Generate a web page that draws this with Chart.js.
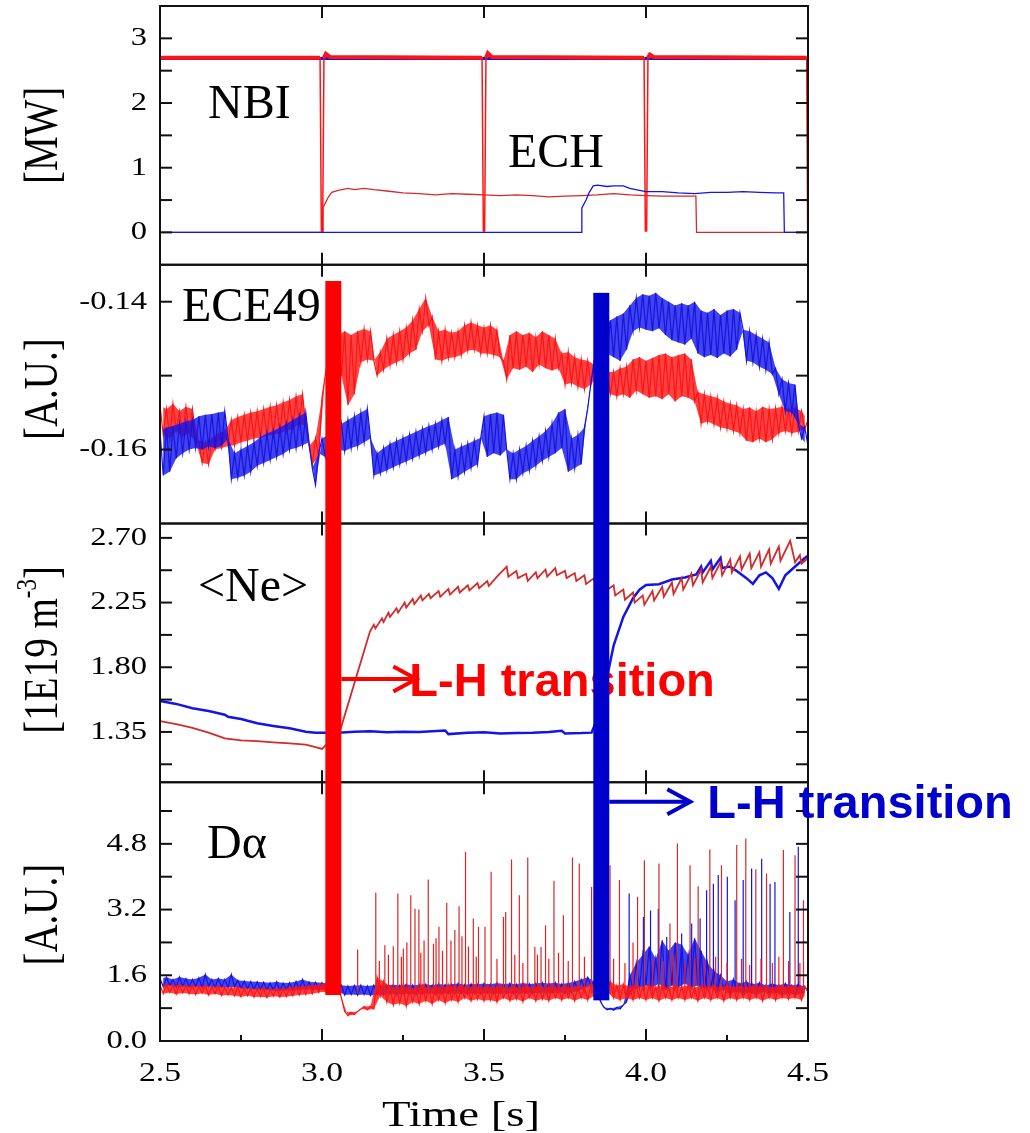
<!DOCTYPE html>
<html>
<head>
<meta charset="utf-8">
<title>L-H transition: NBI / ECH / ECE49 / Ne / D-alpha</title>
<script src="https://cdn.jsdelivr.net/npm/chart.js@4.4.1/dist/chart.umd.min.js"></script>
<style>
  html, body { margin: 0; padding: 0; background: #fff; }
  #wrap { width: 1030px; height: 1133px; }
</style>
</head>
<body>
<div id="wrap"><canvas id="lh" width="1030" height="1133"></canvas></div>
<script>
// ── TICKS ──
const TIME_TICKS = [2.5, 3.0, 3.5, 4.0, 4.5];
const TIME_MINOR = [2.75, 3.25, 3.75, 4.25];
const MW_TICKS = [0, 1, 2, 3];
const MW_MINOR = [0.5, 1.5, 2.5];
const ECE_TICKS = [-0.16, -0.14];
const ECE_MINOR = [-0.15];
const NE_TICKS = [1.35, 1.80, 2.25, 2.70];
const NE_MINOR = [1.125, 1.575, 2.025, 2.475];
const DA_TICKS = [0.0, 1.6, 3.2, 4.8];
const DA_MINOR = [0.8, 2.4, 4.0, 5.6];

const PANEL_LABELS = ['NBI', 'ECH', 'ECE49', '<Ne>', 'D\u03b1'];
const Y_TITLES = ['[MW]', '[A.U.]', '[1E19 m', '[A.U.]'];
const X_TITLE = 'Time [s]';
const LH_TEXT = 'L-H transition';

// ── PANEL 1: heating power [MW] ──
const NBI_RED_T = [2.500, 2.994, 2.998, 3.002, 3.006, 3.012, 3.025, 3.494, 3.498, 3.502, 3.506, 3.512, 3.525,
  3.994, 3.998, 4.002, 4.006, 4.012, 4.025, 4.496, 4.499, 4.500];
const NBI_RED_V = [2.70, 2.70, 0.02, 0.02, 2.70, 2.76, 2.71, 2.70, 0.02, 0.02, 2.70, 2.77, 2.71,
  2.70, 0.02, 0.02, 2.70, 2.75, 2.71, 2.70, 0.02, 0.02];
const NBI_BLUE_T = [2.50, 4.50];
const NBI_BLUE_V = [2.69, 2.69];
const ECH_RED_T = [2.500, 3.000, 3.003, 3.010, 3.020, 3.030, 3.050, 3.080, 3.100, 3.130, 3.160, 3.200, 3.250,
  3.300, 3.350, 3.400, 3.450, 3.500, 3.550, 3.600, 3.650, 3.700, 3.750, 3.800, 3.850, 3.900, 3.950,
  4.000, 4.050, 4.100, 4.154, 4.156, 4.500];
const ECH_RED_V = [0, 0, 0.38, 0.45, 0.55, 0.62, 0.65, 0.68, 0.66, 0.68, 0.66, 0.64, 0.61,
  0.60, 0.58, 0.60, 0.59, 0.58, 0.57, 0.58, 0.57, 0.55, 0.56, 0.57, 0.58, 0.60, 0.58,
  0.57, 0.56, 0.56, 0.56, 0, 0];
const ECH_BLUE_T = [2.500, 3.800, 3.802, 3.815, 3.825, 3.837, 3.850, 3.880, 3.900, 3.930, 3.950, 3.980,
  4.000, 4.050, 4.100, 4.150, 4.200, 4.250, 4.300, 4.350, 4.400, 4.425, 4.427, 4.500];
const ECH_BLUE_V = [0, 0, 0.38, 0.50, 0.62, 0.72, 0.73, 0.71, 0.72, 0.72, 0.68, 0.65,
  0.63, 0.63, 0.61, 0.60, 0.62, 0.62, 0.63, 0.62, 0.61, 0.61, 0, 0];

// ── sample times of the digitised ECE / D-alpha records (10 ms) ──
const GRID_T = Array.from({ length: 201 }, (_, i) => Math.round(250 + i) / 100);

// ── PANEL 2: ECE49 [A.U.] (samples alternate between the top and bottom of the noise) ──
const ECE_RED = [
  -.1540, -.1580, -.1545, -.1585, -.1538, -.1575, -.1548, -.1582, -.1542, -.1578,
  -.1545, -.1590, -.1588, -.1618, -.1590, -.1620, -.1585, -.1600, -.1578, -.1598,
  -.1575, -.1595, -.1560, -.1594, -.1556, -.1590, -.1553, -.1588, -.1550, -.1585,
  -.1548, -.1584, -.1545, -.1582, -.1542, -.1580, -.1540, -.1578, -.1536, -.1575,
  -.1533, -.1572, -.1528, -.1565, -.1525, -.1568, -.1595, -.1620, -.1585, -.1610,
  -.1530, -.1500, -.1470, -.1455, -.1480, -.1445, -.1500, -.1440, -.1540, -.1445,
  -.1525, -.1440, -.1482, -.1437, -.1478, -.1440, -.1480, -.1500, -.1468, -.1492,
  -.1450, -.1486, -.1445, -.1482, -.1440, -.1478, -.1435, -.1470, -.1425, -.1465,
  -.1410, -.1440, -.1395, -.1432, -.1420, -.1478, -.1440, -.1480, -.1438, -.1476,
  -.1442, -.1475, -.1440, -.1472, -.1432, -.1466, -.1428, -.1465, -.1432, -.1470,
  -.1435, -.1470, -.1432, -.1472, -.1438, -.1475, -.1480, -.1505, -.1445, -.1490,
  -.1440, -.1492, -.1445, -.1488, -.1442, -.1495, -.1448, -.1485, -.1440, -.1490,
  -.1445, -.1493, -.1450, -.1490, -.1470, -.1512, -.1468, -.1510, -.1475, -.1515,
  -.1478, -.1518, -.1480, -.1512, -.1485, -.1500, -.1492, -.1510, -.1495, -.1525,
  -.1495, -.1528, -.1490, -.1525, -.1488, -.1530, -.1478, -.1520, -.1475, -.1525,
  -.1480, -.1530, -.1476, -.1528, -.1472, -.1532, -.1470, -.1525, -.1475, -.1535,
  -.1472, -.1528, -.1470, -.1530, -.1478, -.1535, -.1522, -.1565, -.1525, -.1562,
  -.1528, -.1566, -.1530, -.1570, -.1535, -.1572, -.1538, -.1575, -.1540, -.1578,
  -.1545, -.1588, -.1543, -.1590, -.1548, -.1585, -.1542, -.1590, -.1545, -.1586,
  -.1544, -.1578, -.1542, -.1575, -.1545, -.1578, -.1543, -.1576, -.1548, -.1572, -.1560
];
const ECE_BLUE = [
  -.1575, -.1635, -.1570, -.1630, -.1568, -.1612, -.1565, -.1605, -.1562, -.1600,
  -.1560, -.1598, -.1555, -.1600, -.1553, -.1596, -.1552, -.1598, -.1550, -.1595,
  -.1548, -.1585, -.1640, -.1605, -.1638, -.1600, -.1635, -.1595, -.1630, -.1590,
  -.1622, -.1583, -.1618, -.1578, -.1614, -.1575, -.1610, -.1570, -.1606, -.1565,
  -.1600, -.1560, -.1598, -.1555, -.1594, -.1550, -.1590, -.1625, -.1648, -.1605,
  -.1585, -.1610, -.1580, -.1605, -.1578, -.1600, -.1565, -.1602, -.1560, -.1598,
  -.1555, -.1595, -.1550, -.1590, -.1545, -.1585, -.1635, -.1605, -.1632, -.1598,
  -.1628, -.1592, -.1624, -.1588, -.1620, -.1584, -.1616, -.1580, -.1612, -.1576,
  -.1608, -.1572, -.1604, -.1568, -.1600, -.1565, -.1596, -.1560, -.1592, -.1556,
  -.1640, -.1600, -.1636, -.1596, -.1630, -.1592, -.1625, -.1588, -.1620, -.1584,
  -.1555, -.1610, -.1552, -.1605, -.1550, -.1608, -.1553, -.1600, -.1640, -.1605,
  -.1640, -.1600, -.1632, -.1595, -.1628, -.1588, -.1622, -.1582, -.1615, -.1575,
  -.1610, -.1565, -.1605, -.1550, -.1598, -.1545, -.1630, -.1585, -.1625, -.1580,
  -.1620, -.1570, -.1545, -.1510, -.1480, -.1460, -.1450, -.1440, -.1470, -.1425,
  -.1475, -.1420, -.1480, -.1416, -.1465, -.1405, -.1440, -.1395, -.1435, -.1390,
  -.1438, -.1392, -.1440, -.1388, -.1436, -.1395, -.1445, -.1400, -.1452, -.1405,
  -.1455, -.1402, -.1458, -.1405, -.1450, -.1400, -.1470, -.1412, -.1475, -.1415,
  -.1472, -.1410, -.1476, -.1418, -.1470, -.1412, -.1474, -.1410, -.1465, -.1415,
  -.1438, -.1480, -.1440, -.1482, -.1445, -.1488, -.1450, -.1492, -.1455, -.1498,
  -.1490, -.1525, -.1505, -.1548, -.1510, -.1550, -.1512, -.1565, -.1585, -.1570, -.1595
];

// ── PANEL 3: line-averaged density [1E19 m^-3] ──
const NE_RED_T = [2.50, 2.55, 2.60, 2.65, 2.70, 2.75, 2.80, 2.85, 2.90, 2.95, 2.98, 3.00, 3.03, 3.052, 3.148,
  3.160, 3.165, 3.185, 3.190, 3.205, 3.210, 3.230, 3.235, 3.255, 3.260, 3.280, 3.285, 3.305, 3.310,
  3.330, 3.335, 3.360, 3.365, 3.390, 3.395, 3.420, 3.425, 3.450, 3.455, 3.480, 3.485, 3.510, 3.515,
  3.540, 3.570, 3.575, 3.600, 3.605, 3.630, 3.635, 3.660, 3.665, 3.690, 3.695, 3.720, 3.725, 3.750,
  3.755, 3.780, 3.785, 3.810, 3.815, 3.840, 3.845, 3.870, 3.875, 3.900, 3.905, 3.930, 3.935, 3.960,
  3.965, 3.990, 3.995, 4.020, 4.025, 4.050, 4.055, 4.080, 4.085, 4.110, 4.115, 4.140, 4.145, 4.170,
  4.175, 4.200, 4.205, 4.230, 4.235, 4.260, 4.265, 4.290, 4.295, 4.320, 4.325, 4.350, 4.355, 4.380,
  4.385, 4.410, 4.415, 4.445, 4.460, 4.475, 4.480, 4.500];
const NE_RED_V = [1.425, 1.405, 1.378, 1.345, 1.305, 1.292, 1.286, 1.278, 1.270, 1.262, 1.245, 1.232, 1.300, 1.330, 2.048,
  2.095, 2.070, 2.140, 2.115, 2.180, 2.150, 2.210, 2.180, 2.250, 2.215, 2.275, 2.240, 2.300, 2.265,
  2.310, 2.280, 2.330, 2.290, 2.345, 2.305, 2.360, 2.320, 2.370, 2.335, 2.385, 2.350, 2.400, 2.365,
  2.430, 2.500, 2.430, 2.470, 2.420, 2.450, 2.400, 2.460, 2.420, 2.480, 2.430, 2.490, 2.440, 2.470,
  2.420, 2.455, 2.400, 2.440, 2.380, 2.420, 2.350, 2.390, 2.330, 2.370, 2.300, 2.340, 2.270, 2.320,
  2.250, 2.300, 2.235, 2.330, 2.265, 2.360, 2.290, 2.390, 2.310, 2.420, 2.340, 2.450, 2.370, 2.480,
  2.390, 2.500, 2.420, 2.530, 2.440, 2.550, 2.460, 2.570, 2.480, 2.590, 2.490, 2.600, 2.500, 2.620,
  2.520, 2.640, 2.540, 2.680, 2.530, 2.580, 2.520, 2.560];
const NE_BLUE_T = [2.50, 2.55, 2.60, 2.65, 2.70, 2.71, 2.75, 2.80, 2.85, 2.90, 2.95, 2.98, 3.00, 3.05, 3.10,
  3.15, 3.20, 3.25, 3.30, 3.38, 3.39, 3.45, 3.50, 3.55, 3.60, 3.65, 3.70, 3.74, 3.75, 3.80,
  3.832, 3.860, 3.877, 3.900, 3.930, 3.960, 3.980, 4.000, 4.040, 4.080, 4.120, 4.155, 4.170, 4.175,
  4.200, 4.205, 4.230, 4.235, 4.260, 4.280, 4.310, 4.330, 4.350, 4.370, 4.390, 4.410, 4.430, 4.450,
  4.470, 4.490, 4.500];
const NE_BLUE_V = [1.565, 1.545, 1.515, 1.495, 1.470, 1.455, 1.440, 1.410, 1.392, 1.375, 1.352, 1.345, 1.345, 1.345, 1.352,
  1.355, 1.348, 1.352, 1.350, 1.360, 1.335, 1.345, 1.348, 1.340, 1.343, 1.345, 1.350, 1.358, 1.340, 1.342,
  1.345, 1.500, 1.700, 1.950, 2.150, 2.280, 2.340, 2.372, 2.378, 2.410, 2.425, 2.445, 2.500, 2.460,
  2.540, 2.480, 2.560, 2.490, 2.500, 2.470, 2.420, 2.380, 2.440, 2.460, 2.420, 2.345, 2.440, 2.480,
  2.520, 2.560, 2.575];

// ── PANEL 4: D-alpha [A.U.] (baseline noise, samples alternate top / bottom) ──
const DA_RED = [
  1.36, 1.15, 1.38, 1.18, 1.35, 1.14, 1.37, 1.17, 1.34, 1.15,
  1.36, 1.13, 1.33, 1.16, 1.35, 1.12, 1.32, 1.15, 1.34, 1.11,
  1.31, 1.12, 1.30, 1.10, 1.32, 1.08, 1.29, 1.10, 1.28, 1.07,
  1.27, 1.08, 1.29, 1.06, 1.26, 1.09, 1.28, 1.07, 1.27, 1.08,
  1.30, 1.10, 1.32, 1.12, 1.33, 1.13, 1.35, 1.15, 1.36, 1.18,
  1.38, 1.20, 1.40, 1.25, 1.42, 1.30, 1.05, 0.72, 0.62, 0.70,
  0.64, 0.72, 0.78, 0.84, 0.76, 0.85, 0.78, 1.55, 1.10, 1.45,
  0.95, 1.32, 0.88, 1.30, 0.92, 1.35, 0.85, 1.28, 0.95, 1.30,
  0.90, 1.35, 0.98, 1.30, 0.90, 1.34, 1.00, 1.30, 0.92, 1.36,
  1.00, 1.32, 0.95, 1.35, 1.05, 1.30, 0.98, 1.34, 1.02, 1.30,
  0.98, 1.34, 1.00, 1.30, 0.95, 1.35, 1.05, 1.30, 0.98, 1.33,
  1.02, 1.30, 0.96, 1.35, 1.05, 1.30, 0.98, 1.34, 1.02, 1.30,
  0.98, 1.35, 1.05, 1.30, 1.00, 1.34, 1.05, 1.30, 0.98, 1.35,
  1.05, 1.32, 1.00, 1.38, 1.10, 1.40, 1.15, 1.42, 1.20, 1.45,
  1.05, 1.35, 1.00, 1.38, 1.05, 1.32, 1.00, 1.36, 1.05, 1.32,
  1.00, 1.36, 1.05, 1.32, 0.98, 1.35, 1.05, 1.30, 1.00, 1.34,
  1.05, 1.32, 1.00, 1.36, 1.05, 1.30, 0.98, 1.34, 1.05, 1.32,
  1.00, 1.35, 1.05, 1.30, 0.98, 1.36, 1.05, 1.32, 1.00, 1.34,
  1.05, 1.30, 1.00, 1.35, 1.05, 1.32, 0.98, 1.34, 1.05, 1.30,
  1.00, 1.35, 1.05, 1.32, 1.02, 1.34, 1.05, 1.30, 1.00, 1.33, 1.20
];
const DA_BLUE = [
  1.52, 1.32, 1.55, 1.35, 1.50, 1.30, 1.56, 1.33, 1.52, 1.31,
  1.50, 1.32, 1.54, 1.30, 1.62, 1.33, 1.50, 1.30, 1.52, 1.31,
  1.50, 1.30, 1.62, 1.32, 1.48, 1.28, 1.46, 1.27, 1.45, 1.26,
  1.44, 1.25, 1.43, 1.24, 1.42, 1.23, 1.44, 1.22, 1.41, 1.24,
  1.42, 1.23, 1.45, 1.25, 1.50, 1.26, 1.44, 1.25, 1.43, 1.24,
  1.42, 1.25, 1.40, 1.24, 1.38, 1.22, 1.36, 1.12, 1.34, 1.13,
  1.35, 1.12, 1.36, 1.13, 1.34, 1.11, 1.36, 1.14, 1.35, 1.12,
  1.36, 1.15, 1.37, 1.13, 1.35, 1.14, 1.38, 1.15, 1.36, 1.13,
  1.37, 1.14, 1.38, 1.16, 1.36, 1.13, 1.39, 1.15, 1.37, 1.16,
  1.38, 1.15, 1.40, 1.16, 1.37, 1.14, 1.39, 1.16, 1.38, 1.15,
  1.40, 1.17, 1.38, 1.15, 1.41, 1.16, 1.39, 1.17, 1.40, 1.15,
  1.38, 1.16, 1.41, 1.17, 1.39, 1.15, 1.40, 1.18, 1.42, 1.16,
  1.40, 1.17, 1.42, 1.18, 1.39, 1.16, 1.41, 1.19, 1.45, 1.22,
  1.50, 1.28, 1.55, 1.35, 1.45, 1.20, 0.95, 0.82, 0.76, 0.80,
  0.75, 0.82, 0.78, 0.88, 0.95, 1.60, 1.25, 1.90, 1.30, 2.10,
  1.35, 2.30, 1.30, 2.00, 1.40, 2.45, 1.25, 2.20, 1.35, 2.40,
  1.30, 2.35, 1.40, 2.10, 1.30, 2.50, 1.35, 2.20, 1.25, 1.90,
  1.30, 1.70, 1.20, 1.60, 1.25, 1.45, 1.15, 1.50, 1.20, 1.40,
  1.15, 1.45, 1.18, 1.38, 1.12, 1.42, 1.20, 1.35, 1.15, 1.40,
  1.18, 1.36, 1.12, 1.40, 1.16, 1.35, 1.12, 1.38, 1.15, 1.32, 1.20
];
// ELM spikes (time, peak) and the level they rise from
const DA_RED_SPIKE_T = [3.110, 3.166, 3.194, 3.220, 3.234, 3.251, 3.274, 3.287, 3.299, 3.328, 3.344, 3.361,
  3.385, 3.410, 3.423, 3.443, 3.467, 3.483, 3.503, 3.522, 3.560, 3.567, 3.585, 3.609, 3.635, 3.657,
  3.676, 3.690, 3.716, 3.745, 3.773, 3.794, 3.832, 3.889, 3.918, 3.974, 3.995, 4.040, 4.074, 4.097,
  4.136, 4.161, 4.197, 4.233, 4.280, 4.308, 4.339, 4.372, 4.424, 4.460, 4.486];
const DA_RED_SPIKE_V = [2.23, 3.61, 2.33, 2.31, 3.59, 2.25, 3.55, 3.22, 3.20, 3.93, 2.37, 2.78,
  3.36, 2.70, 3.28, 4.61, 2.98, 2.78, 2.78, 4.12, 3.02, 3.14, 4.42, 3.55, 4.47, 2.29,
  2.29, 2.82, 3.90, 3.06, 4.47, 4.32, 3.75, 4.28, 3.92, 3.51, 4.40, 4.32, 2.86, 4.81,
  4.28, 3.77, 4.66, 4.28, 4.77, 4.93, 4.18, 4.08, 4.65, 4.52, 3.43];
const DA_RED_SMALL_T = [3.177, 3.205, 3.245, 3.262, 3.305, 3.315, 3.352, 3.372, 3.398, 3.432, 3.452, 3.476,
  3.540, 3.595, 3.620, 3.665, 3.700, 3.730, 3.760, 3.810, 3.900, 3.935, 3.960, 4.020, 4.055, 4.085,
  4.120, 4.150, 4.180, 4.215, 4.250, 4.295, 4.320, 4.355, 4.390, 4.410, 4.440, 4.475];
const DA_RED_SMALL_V = [1.95, 2.10, 2.05, 2.40, 2.15, 2.45, 2.50, 2.20, 2.45, 2.55, 2.30, 2.05,
  2.00, 2.10, 1.90, 2.10, 2.00, 2.15, 1.95, 2.05, 2.00, 1.90, 2.40, 2.00, 1.95, 2.10,
  1.90, 2.00, 1.95, 2.05, 1.90, 2.00, 1.85, 2.00, 1.90, 2.05, 1.95, 1.90];
const DA_BLUE_SPIKE_T = [3.948, 3.992, 4.014, 4.038, 4.064, 4.110, 4.141, 4.167, 4.187, 4.208,
  4.223, 4.251, 4.275, 4.300, 4.326, 4.357, 4.383, 4.398, 4.444, 4.470];
const DA_BLUE_SPIKE_V = [3.59, 3.02, 3.18, 3.22, 2.53, 2.62, 2.86, 2.98, 3.67, 3.83,
  4.04, 4.00, 3.43, 3.92, 4.20, 4.44, 3.83, 3.87, 3.14, 4.73];
const DA_RED_SPIKE_BASE = 1.15;
const DA_BLUE_SPIKE_BASE = 1.25;

// ── L-H transition markers: time, top (ECE49 units), bottom (D-alpha units) ──
const LH_TIME = [3.035, 3.862];
const LH_BAR_TOP = [-0.1372, -0.1388];
const LH_BAR_BOTTOM = [1.12, 0.99];

// ── STYLE ──
const SERIF = "'Liberation Serif', 'Times New Roman', serif";
const SANS = "'Liberation Sans', Arial, sans-serif";
const RED = '#ff1414';
const RED_BAND = 'rgba(255, 20, 20, 0.8)';
const DARK_RED = '#d42a2a';
const BLUE = '#1414e6';
const BLUE_BAND = 'rgba(20, 20, 230, 0.8)';
const BAR_COLORS = ['#ff0000', '#0000cc'];

const pts = (t, v) => t.map((x, i) => ({ x, y: v[i] }));
const half = (t, v, p) => pts(t, v).filter((_, i) => i % 2 === p);
// the beam-on level only (notches left as gaps) for the thick NBI band
const beamOn = (t, v) => t.map((x, i) => ({ x, y: v[i] > 1 ? v[i] : null }));
const spikes = (t, v, base) => t.flatMap((x, i) => [{ x, y: base }, { x, y: v[i] }, { x, y: null }]);
const trace = (data, color, width, axis, order, extra) => Object.assign({
    data, borderColor: color, borderWidth: width, yAxisID: axis, xAxisID: 'x', order,
    pointRadius: 0, tension: 0, fill: false, spanGaps: false
}, extra || {});
// noise envelope: band between the upper and lower samples of a record
const band = (t, v, fillColor, axis, order) => [
    trace(half(t, v, 0), 'rgba(0,0,0,0)', 0, axis, order, { fill: '+1', backgroundColor: fillColor }),
    trace(half(t, v, 1), 'rgba(0,0,0,0)', 0, axis, order)
];

function panelScale(min, max, weight, major, minor) {
    return {
        type: 'linear', position: 'left', stack: 'panels', stackWeight: 1, weight,
        min, max,
        grid: { display: false }, border: { display: false }, ticks: { display: false },
        afterBuildTicks: s => { s.ticks = major.concat(minor).sort((a, b) => a - b).map(v => ({ value: v })); },
        afterFit: s => { s.width = 160; }
    };
}

const Y_MAJOR = [MW_TICKS, ECE_TICKS, NE_TICKS, DA_TICKS];
const Y_DEC = [0, 2, 2, 1];
const Y_TITLE_SHIFT = [0, -5, -3, 3];

function stretchText(ctx, text, x, y, sx) {
    ctx.save();
    ctx.translate(x, y);
    ctx.scale(sx, 1);
    ctx.fillText(text, 0, 0);
    ctx.restore();
}

const panelOverlay = {
    id: 'panelOverlay',
    afterDatasetsDraw(chart) {
        const { ctx, chartArea: a, scales } = chart;
        const xs = scales.x;
        const panels = ['y1', 'y2', 'y3', 'y4'].map(k => scales[k]);
        const seg = (x1, y1, x2, y2) => { ctx.beginPath(); ctx.moveTo(x1, y1); ctx.lineTo(x2, y2); ctx.stroke(); };
        ctx.save();

        // ── frames + inward ticks ──
        ctx.strokeStyle = '#111';
        ctx.lineWidth = 2;
        panels.forEach((s, k) => {
            ctx.strokeRect(a.left, s.top, a.right - a.left, s.bottom - s.top);
            s.ticks.forEach(t => {
                const y = s.getPixelForValue(t.value);
                if (y < s.top + 2 || y > s.bottom - 2) return;
                seg(a.left, y, a.left + 12, y);
                seg(a.right, y, a.right - 12, y);
            });
            xs.ticks.forEach(t => {
                const x = xs.getPixelForValue(t.value);
                if (x < a.left + 2 || x > a.right - 2) return;
                const major = TIME_TICKS.some(v => Math.abs(v - t.value) < 1e-6);
                if (major) {
                    seg(x, s.top, x, s.top + 12);
                    seg(x, s.bottom, x, s.bottom - 12);
                } else if (k === panels.length - 1) {
                    seg(x, s.bottom, x, s.bottom - 6);
                }
            });
        });

        // ── tick labels ──
        ctx.fillStyle = '#000';
        ctx.font = `26px ${SERIF}`;
        ctx.textAlign = 'right';
        ctx.textBaseline = 'middle';
        panels.forEach((s, k) => {
            Y_MAJOR[k].forEach(v => stretchText(ctx, v.toFixed(Y_DEC[k]), a.left - 13, s.getPixelForValue(v), 1.25));
        });
        ctx.font = `28px ${SERIF}`;
        ctx.textAlign = 'center';
        ctx.textBaseline = 'alphabetic';
        TIME_TICKS.forEach(v => stretchText(ctx, v.toFixed(1), xs.getPixelForValue(v), a.bottom + 40, 1.2));

        // ── axis titles ──
        ctx.font = `36px ${SERIF}`;
        stretchText(ctx, X_TITLE, (a.left + a.right) / 2 - 23, a.bottom + 85, 1.3);

        panels.forEach((s, k) => {
            const cy = (s.top + s.bottom) / 2 + Y_TITLE_SHIFT[k];
            ctx.save();
            ctx.translate(57, cy);
            ctx.rotate(-Math.PI / 2);
            ctx.scale(1, 1.24);
            ctx.textAlign = 'left';
            ctx.font = `39px ${SERIF}`;
            if (k === 2) {
                const w1 = ctx.measureText(Y_TITLES[k]).width;
                const w3 = ctx.measureText(']').width;
                ctx.font = `23px ${SERIF}`;
                const w2 = ctx.measureText('-3').width;
                const x0 = -(w1 + w2 + w3) / 2;
                ctx.font = `39px ${SERIF}`;
                ctx.fillText(Y_TITLES[k], x0, 0);
                ctx.font = `23px ${SERIF}`;
                ctx.fillText('-3', x0 + w1, -17);
                ctx.font = `39px ${SERIF}`;
                ctx.fillText(']', x0 + w1 + w2, 0);
            } else {
                ctx.textAlign = 'center';
                ctx.fillText(Y_TITLES[k], 0, 0);
            }
            ctx.restore();
        });

        // ── panel labels ──
        ctx.font = `48px ${SERIF}`;
        ctx.textAlign = 'left';
        ctx.fillText(PANEL_LABELS[0], 208, panels[0].top + 112);
        ctx.fillText(PANEL_LABELS[1], 508, panels[0].top + 161);
        ctx.fillText(PANEL_LABELS[2], 182, panels[1].top + 56);
        ctx.fillText(PANEL_LABELS[3], 198, panels[2].top + 77);
        ctx.fillText(PANEL_LABELS[4], 207, panels[3].top + 76);

        // ── L-H transition bars, arrows and labels ──
        const marks = [
            { panel: 2, dy: 155.5, arrow: 75, textDx: 68, baseDy: 172 },
            { panel: 3, dy: 19.5, arrow: 81, textDx: 98, baseDy: 36 }
        ];
        LH_TIME.forEach((t, i) => {
            const x = xs.getPixelForValue(t);
            const top = panels[1].getPixelForValue(LH_BAR_TOP[i]);
            const bottom = panels[3].getPixelForValue(LH_BAR_BOTTOM[i]);
            ctx.fillStyle = BAR_COLORS[i];
            ctx.fillRect(x - 8, top, 16, bottom - top);

            const m = marks[i];
            const edge = x + 8;
            const y = panels[m.panel].top + m.dy;
            const tip = edge + m.arrow;
            ctx.strokeStyle = BAR_COLORS[i];
            ctx.lineWidth = 4;
            seg(edge, y, tip - 2, y);
            ctx.beginPath();
            ctx.moveTo(tip - 23, y - 12.5);
            ctx.lineTo(tip, y);
            ctx.lineTo(tip - 23, y + 12.5);
            ctx.stroke();
            ctx.font = `bold 47px ${SANS}`;
            ctx.textAlign = 'left';
            ctx.textBaseline = 'alphabetic';
            ctx.fillText(LH_TEXT, edge + m.textDx, panels[m.panel].top + m.baseDy);
        });
        ctx.restore();
    }
};

new Chart(document.getElementById('lh'), {
    type: 'line',
    data: {
        datasets: [
            trace(beamOn(NBI_RED_T, NBI_RED_V), RED, 4, 'y1', 2),
            trace(pts(NBI_RED_T, NBI_RED_V), RED, 1.5, 'y1', 2),
            trace(pts(NBI_BLUE_T, NBI_BLUE_V), BLUE, 3, 'y1', 3),
            trace(pts(ECH_RED_T, ECH_RED_V), DARK_RED, 1.3, 'y1', 4),
            trace(pts(ECH_BLUE_T, ECH_BLUE_V), BLUE, 1.3, 'y1', 1),

            trace(pts(GRID_T, ECE_BLUE), BLUE, 1.2, 'y2', 1),
            ...band(GRID_T, ECE_BLUE, BLUE_BAND, 'y2', 2),
            trace(pts(GRID_T, ECE_RED), RED, 1.2, 'y2', 3),
            ...band(GRID_T, ECE_RED, RED_BAND, 'y2', 4),

            trace(pts(NE_RED_T, NE_RED_V), DARK_RED, 1.8, 'y3', 1),
            trace(pts(NE_BLUE_T, NE_BLUE_V), BLUE, 2.5, 'y3', 2),

            trace(spikes(DA_RED_SPIKE_T, DA_RED_SPIKE_V, DA_RED_SPIKE_BASE), DARK_RED, 1.2, 'y4', 1),
            trace(spikes(DA_RED_SMALL_T, DA_RED_SMALL_V, DA_RED_SPIKE_BASE), RED, 1.2, 'y4', 1),
            trace(pts(GRID_T, DA_RED), RED, 1.2, 'y4', 2),
            ...band(GRID_T, DA_RED, RED_BAND, 'y4', 3),
            trace(spikes(DA_BLUE_SPIKE_T, DA_BLUE_SPIKE_V, DA_BLUE_SPIKE_BASE), BLUE, 1.2, 'y4', 4),
            trace(pts(GRID_T, DA_BLUE), BLUE, 1.2, 'y4', 5),
            ...band(GRID_T, DA_BLUE, BLUE_BAND, 'y4', 6)
        ]
    },
    options: {
        responsive: false,
        devicePixelRatio: 1,
        animation: false,
        events: [],
        layout: { padding: { left: 0, top: 6, right: 222, bottom: 0 } },
        plugins: { legend: { display: false }, tooltip: { enabled: false } },
        scales: {
            x: {
                type: 'linear', position: 'bottom', min: 2.5, max: 4.5,
                grid: { display: false }, border: { display: false }, ticks: { display: false },
                afterBuildTicks: s => { s.ticks = TIME_TICKS.concat(TIME_MINOR).sort((a, b) => a - b).map(v => ({ value: v })); },
                afterFit: s => { s.height = 92; }
            },
            y1: panelScale(-0.5, 3.5, 4, MW_TICKS, MW_MINOR),
            y2: panelScale(-0.17, -0.135, 3, ECE_TICKS, ECE_MINOR),
            y3: panelScale(1.0, 2.8, 2, NE_TICKS, NE_MINOR),
            y4: panelScale(0, 6.3, 1, DA_TICKS, DA_MINOR)
        }
    },
    plugins: [panelOverlay]
});
</script>
</body>
</html>
